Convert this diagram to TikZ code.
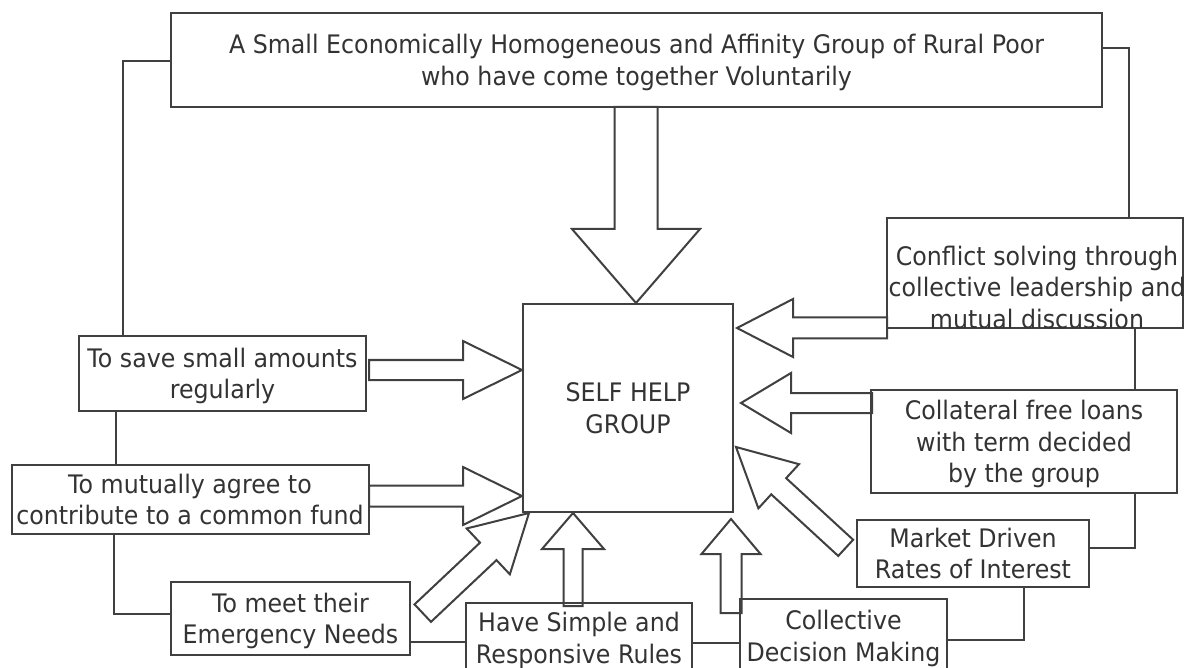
\documentclass[tikz,border=0pt]{standalone}
\usepackage{fontspec}
\setmainfont{DejaVu Sans}[FakeStretch=0.93]
\usetikzlibrary{calc}
\definecolor{linec}{HTML}{404040}
\definecolor{txtc}{HTML}{333333}
\newcommand\fs{\fontsize{25.5}{31.5}\selectfont}
% #1 tip, #2 direction, #3 total length, #4 head length, #5 head half width, #6 shaft half width
\newcommand\blockarrow[6]{%
  \draw[blockarr, shift={#1}, rotate=#2] (0,0) -- (-#4,#5) -- (-#4,#6) -- (-#3,#6)
     -- (-#3,-#6) -- (-#4,-#6) -- (-#4,-#5) -- cycle;}
\begin{document}
\begin{tikzpicture}[x=1pt,y=-1pt,
  box/.style={draw=linec, line width=2pt, rectangle, inner sep=0pt, align=center,
              text=txtc, font=\fs, text depth=0pt},
  txt/.style={inner sep=0pt, align=center, text=txtc, font=\fs},
  conn/.style={draw=linec, line width=2pt},
  blockarr/.style={draw=linec, line width=2pt, line join=miter}]
\useasboundingbox[fill=white] (0,0) rectangle (1189,668);

% boxes
\node[box, minimum width=931pt, minimum height=94pt] (topbox) at (636.5,59.7)
  {A Small Economically Homogeneous and Affinity Group of Rural Poor\\who have come together Voluntarily};
\node[box, minimum width=210pt, minimum height=208pt] (shg) at (628,408)
  {SELF HELP\\GROUP};
\node[box, minimum width=287pt, minimum height=75pt] (save) at (222.5,373.5)
  {To save small amounts\\regularly};
\node[box, minimum width=357pt, minimum height=69pt] (mutual) at (190,499.5)
  {To mutually agree to\\contribute to a common fund};
\node[box, minimum width=239pt, minimum height=73pt] (meet) at (290.5,618.5)
  {To meet their\\Emergency Needs};
\node[box, minimum width=226pt, minimum height=70pt] (simple) at (579,638)
  {Have Simple and\\Responsive Rules};
\node[box, minimum width=207pt, minimum height=74pt] (collective) at (843.5,636)
  {Collective\\Decision Making};
\node[box, minimum width=232pt, minimum height=67pt] (market) at (973,553.5)
  {Market Driven\\Rates of Interest};
\node[box, minimum width=306pt, minimum height=103pt] (collateral) at (1024,441.5)
  {Collateral free loans\\with term decided\\by the group};
\node[box, minimum width=296pt, minimum height=110pt] (conflict) at (1035,273) {};
\node[txt] (conflicttext) at (1037,287)
  {Conflict solving through\\collective leadership and\\mutual discussion};

% thin connectors
\draw[conn] (topbox.west |- 0,61) -| (save.north -| 123,0);
\draw[conn] (save.south -| 116,0) -- (mutual.north -| 116,0);
\draw[conn] (mutual.south -| 114,0) |- (meet.west |- 0,614);
\draw[conn] (meet.east |- 0,642) -- (simple.west |- 0,642);
\draw[conn] (simple.east |- 0,643) -- (collective.west |- 0,643);
\draw[conn] (collective.east |- 0,640) -| (market.south -| 1024,0);
\draw[conn] (market.east |- 0,548) -| (collateral.south -| 1135,0);
\draw[conn] (collateral.north -| 1135,0) -- (conflict.south -| 1135,0);
\draw[conn] (conflict.north -| 1129,0) |- (topbox.east |- 0,48);

% block arrows
\blockarrow{(shg.north -| 636,0)}{-90}{196}{74}{64}{21.5}
\blockarrow{(shg.west |- 0,370)}{0}{153}{59}{29}{10}
\blockarrow{(shg.west |- 0,496)}{0}{153}{59}{29}{10.5}
\blockarrow{($(shg.south west)+(7,0)$)}{43.3}{146}{56}{31.5}{12}
\blockarrow{(shg.south -| 573,0)}{90}{93}{36}{31}{9.5}
\blockarrow{($(shg.south -| 731,0)+(0,6)$)}{90}{94}{35}{29.5}{10.5}
\blockarrow{($(shg.east |- 0,447)+(2,0)$)}{137.4}{149}{58}{30}{11}
\blockarrow{($(shg.east |- 0,403)+(7,0)$)}{180}{131}{50}{30}{10}
\blockarrow{($(shg.east |- 0,328)+(3,0)$)}{180}{150}{56}{29}{10.5}
\end{tikzpicture}
\end{document}
